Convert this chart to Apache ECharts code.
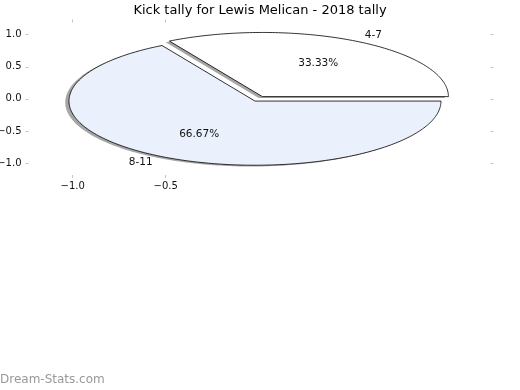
<!DOCTYPE html>
<html>
<head>
<meta charset="utf-8">
<script src="https://cdn.jsdelivr.net/npm/echarts@6/dist/echarts.min.js"></script>
<style>html,body{margin:0;padding:0;background:#fff}#c{width:520px;height:390px}</style>
</head>
<body>
<div id="c"></div>
<script>
// ---- data ----
const categories = ['4-7', '8-11'];
const values = [1, 2];
const sliceColors = ['#ffffff', '#ebf1fc'];
const xTickValues = [-1.0, -0.5];
const yTickMin = -1.0, yTickMax = 1.0, yTickStep = 0.5;
const titleText = 'Kick tally for Lewis Melican - 2018 tally';
const watermark = 'Dream-Stats.com';

const FONT = 'DejaVu Sans';
const explode = 0.04;
const total = values.reduce((a, b) => a + b, 0);
const starts = [];
{ let acc = 0; values.forEach(v => { starts.push(acc); acc += v; }); }

// axis extents of the plotting frame
const X_MIN = -1.2376, X_MAX = 1.2462, Y_MIN = -1.187, Y_MAX = 1.190;

function wedgeGeom(i) {
  const a0 = starts[i] / total * 2 * Math.PI;
  const a1 = (starts[i] + values[i]) / total * 2 * Math.PI;
  const mid = (a0 + a1) / 2;
  return { a0, a1, mid, cx: explode * Math.cos(mid), cy: explode * Math.sin(mid) };
}
function wedgePoints(api, g, ox, oy) {
  const pts = [api.coord([g.cx + ox, g.cy + oy])];
  const n = Math.max(8, Math.ceil((g.a1 - g.a0) / (Math.PI / 180)));
  for (let k = 0; k <= n; k++) {
    const a = g.a0 + (g.a1 - g.a0) * k / n;
    pts.push(api.coord([g.cx + ox + Math.cos(a), g.cy + oy + Math.sin(a)]));
  }
  return pts;
}
const fmt = v => Number(v).toFixed(1).replace('-', '\u2212');
const TICK_COLOR = '#c4c4c4';
const tickStyle = { show: true, inside: false, length: 3, lineStyle: { color: TICK_COLOR, width: 1 } };
const hiddenLine = { show: false };
const hiddenAxis = { axisLine: { show: false }, axisTick: { show: false }, axisLabel: { show: false }, splitLine: { show: false } };

// frame (axes box) and tick-range box in pixels
const frame = { left: 28.5, right: 490.5, top: 22.5, bottom: 175 };
const G = { left: 72.7, top: 34.7, width: 93, height: 128.3 };

const chart = echarts.init(document.getElementById('c'), null, { renderer: 'canvas' });
chart.setOption({
  animation: false,
  backgroundColor: '#fff',
  title: { text: titleText, left: 'center', top: -1,
    textStyle: { fontFamily: FONT, fontSize: 13, fontWeight: 'normal', color: '#000' } },
  graphic: [{ type: 'text', left: 0, top: 374,
    style: { text: watermark, fontFamily: FONT, fontSize: 12, fill: '#999' } }],
  grid: [
    { left: frame.left, right: 520 - frame.right, top: frame.top, bottom: 390 - frame.bottom,
      show: false, containLabel: false, outerBoundsMode: 'none' },
    { left: G.left, top: G.top, width: G.width, height: G.height,
      show: false, containLabel: false, outerBoundsMode: 'none' }
  ],
  xAxis: [
    Object.assign({ type: 'value', gridIndex: 0, min: X_MIN, max: X_MAX, position: 'bottom' }, hiddenAxis),
    { type: 'category', gridIndex: 1, data: xTickValues.map(fmt), boundaryGap: false, position: 'bottom',
      offset: frame.bottom - (G.top + G.height),
      axisLine: hiddenLine, splitLine: { show: false }, axisTick: { show: false },
      axisLabel: { interval: 0, margin: 6, fontFamily: FONT, fontSize: 10, color: '#111' } }
  ],
  yAxis: [
    Object.assign({ type: 'value', gridIndex: 0, min: Y_MIN, max: Y_MAX, position: 'left' }, hiddenAxis),
    { type: 'value', gridIndex: 1, min: yTickMin, max: yTickMax, interval: yTickStep, position: 'left',
      offset: G.left - frame.left,
      axisLine: hiddenLine, splitLine: { show: false }, axisTick: tickStyle,
      axisLabel: { formatter: fmt, margin: 7, fontFamily: FONT, fontSize: 10, color: '#111',
        showMinLabel: true, showMaxLabel: true } },
    { type: 'value', gridIndex: 1, min: yTickMin, max: yTickMax, interval: yTickStep, position: 'right',
      offset: frame.right - (G.left + G.width),
      axisLine: hiddenLine, splitLine: { show: false }, axisTick: tickStyle,
      axisLabel: { show: false } }
  ],
  series: [
    { // x-axis tick marks on bottom and top frame edges
      type: 'custom', coordinateSystem: 'cartesian2d', xAxisIndex: 0, yAxisIndex: 0,
      z: 3, silent: true, clip: false,
      data: xTickValues.map(v => [v, 0]),
      renderItem: (params, api) => {
        const v = xTickValues[params.dataIndex];
        const b = api.coord([v, Y_MIN]);
        const t = api.coord([v, Y_MAX]);
        const x = Math.round(b[0] - 0.5) + 0.5;
        const st = { stroke: TICK_COLOR, lineWidth: 1 };
        return { type: 'group', children: [
          { type: 'line', shape: { x1: x, y1: b[1], x2: x, y2: b[1] + 3 }, style: st },
          { type: 'line', shape: { x1: x, y1: t[1], x2: x, y2: t[1] - 3 }, style: st }
        ] };
      }
    },
    { // shadows
      type: 'custom', coordinateSystem: 'cartesian2d', xAxisIndex: 0, yAxisIndex: 0,
      z: 1, silent: true, clip: false,
      data: categories.map((c, i) => [0, 0, values[i]]),
      renderItem: (params, api) => {
        const g = wedgeGeom(params.dataIndex);
        return { type: 'polygon', shape: { points: wedgePoints(api, g, -0.02, -0.02) },
          style: { fill: 'rgba(77,77,77,0.5)', stroke: null } };
      }
    },
    { // wedges + labels
      type: 'custom', coordinateSystem: 'cartesian2d', xAxisIndex: 0, yAxisIndex: 0,
      z: 2, silent: true, clip: false,
      data: categories.map((c, i) => [0, 0, values[i]]),
      renderItem: (params, api) => {
        const i = params.dataIndex;
        const g = wedgeGeom(i);
        const lp = api.coord([g.cx + 1.1 * Math.cos(g.mid), g.cy + 1.1 * Math.sin(g.mid)]);
        const pp = api.coord([g.cx + 0.6 * Math.cos(g.mid), g.cy + 0.6 * Math.sin(g.mid)]);
        const pct = (values[i] / total * 100).toFixed(2) + '%';
        return { type: 'group', children: [
          { type: 'polygon', shape: { points: wedgePoints(api, g, 0, 0) },
            style: { fill: sliceColors[i], stroke: '#000', lineWidth: 0.8 } },
          { type: 'text', x: lp[0], y: lp[1],
            style: { text: categories[i], fontFamily: FONT, fontSize: 10.5, fill: '#111',
              align: Math.cos(g.mid) >= 0 ? 'left' : 'right', verticalAlign: 'middle' } },
          { type: 'text', x: pp[0], y: pp[1],
            style: { text: pct, fontFamily: FONT, fontSize: 10.5, fill: '#111',
              align: 'center', verticalAlign: 'middle' } }
        ] };
      }
    }
  ]
});
</script>
</body>
</html>
